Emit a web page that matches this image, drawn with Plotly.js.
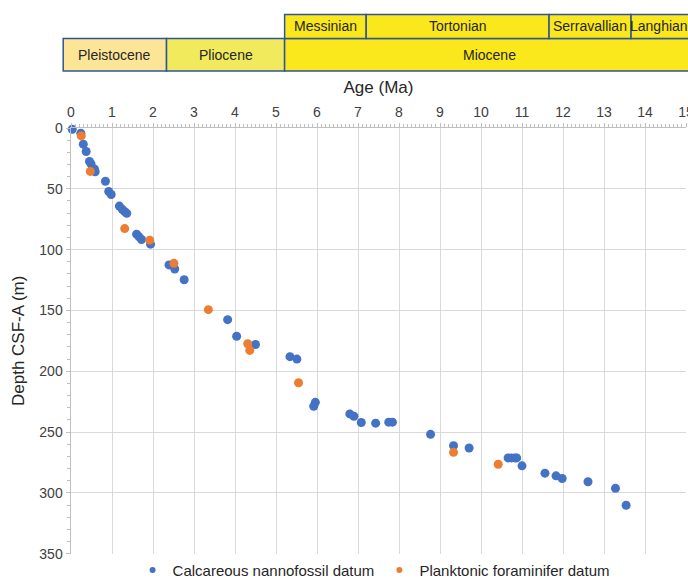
<!DOCTYPE html>
<html>
<head>
<meta charset="utf-8">
<script src="https://cdn.plot.ly/plotly-3.0.1.min.js"></script>
<style>html,body{margin:0;padding:0;background:#fff}#chart{width:688px;height:580px}</style>
</head>
<body>
<div id="chart"></div>
<script>
// Calcareous nannofossil datums: age (Ma), depth CSF-A (m)
var nannoAge = [0.03, 0.24, 0.30, 0.37, 0.45, 0.49, 0.57, 0.59, 0.84, 0.92, 0.98, 1.18, 1.25, 1.31, 1.36, 1.60, 1.66, 1.72, 1.94,
  2.39, 2.53, 2.76, 3.82, 4.04, 4.50, 5.34, 5.51, 5.96, 5.92, 6.80, 6.90, 7.08, 7.43, 7.75, 7.84, 8.77, 9.33, 9.71,
  10.66, 10.74, 10.83, 10.87, 11.00, 11.56, 11.83, 11.98, 12.61, 13.28, 13.54];
var nannoDepth = [1, 4.3, 13.3, 19.3, 27.5, 29.6, 33.7, 36.0, 43.8, 52.2, 54.7, 64.2, 66.9, 68.8, 70.2, 87.3, 89.5, 91.7, 95.5,
  112.6, 115.9, 124.8, 157.6, 171.2, 178.0, 188.0, 190.0, 225.6, 228.8, 235.1, 237.0, 242.2, 242.7, 241.9, 241.9, 251.9, 261.2, 263.1,
  271.3, 271.3, 271.3, 271.3, 277.8, 283.8, 286.0, 288.2, 290.9, 296.3, 310.2];
// Planktonic foraminifer datums
var foramAge = [0.25, 0.47, 1.31, 1.92, 2.51, 3.35, 4.31, 4.36, 5.55, 9.33, 10.42];
var foramDepth = [6.5, 35.7, 82.7, 92.2, 111.3, 149.4, 177.4, 182.9, 209.5, 266.7, 276.5];

var seriesNames = ['Calcareous nannofossil datum', 'Planktonic foraminifer datum'];
var seriesColors = ['#4472C4', '#ED7D31'];

// Geologic time scale header (ages in Ma, as drawn)
var epochNames = ['Pleistocene', 'Pliocene', 'Miocene'];
var epochStart = [-0.19, 2.33, 5.21];
var epochEnd = [2.33, 5.21, 15.3];
var epochColors = ['#FDE598', '#F0EA5C', '#FAE81C'];
var stageNames = ['Messinian', 'Tortonian', 'Serravallian', 'Langhian'];
var stageStart = [5.21, 7.2, 11.66, 13.66];
var stageEnd = [7.2, 11.66, 13.66, 15.3];
var stageColor = '#FAE81C';

var xMin = 0, xMax = 15;
function px(a) { return (a - xMin) / (xMax - xMin); }

var rowTop = 1.2669, rowMid = 1.2101, rowBot = 1.1342;
var shapes = [], annotations = [];
var border = {color: '#2F5597', width: 1.5};
var hdrFont = {family: 'Liberation Sans, Arial, sans-serif', size: 14, color: '#262626'};
for (var i = 0; i < epochNames.length; i++) {
  shapes.push({type: 'rect', xref: 'paper', yref: 'paper', x0: px(epochStart[i]), x1: px(epochEnd[i]),
    y0: rowBot, y1: rowMid, fillcolor: epochColors[i], line: border, layer: 'above'});
  var xc = (epochStart[i] + epochEnd[i]) / 2;
  if (i === 2) xc = 10.2;
  annotations.push({xref: 'paper', yref: 'paper', x: px(xc), y: (rowBot + rowMid) / 2, text: epochNames[i],
    showarrow: false, xanchor: 'center', yanchor: 'middle', font: hdrFont});
}
for (var j = 0; j < stageNames.length; j++) {
  shapes.push({type: 'rect', xref: 'paper', yref: 'paper', x0: px(stageStart[j]), x1: px(stageEnd[j]),
    y0: rowMid, y1: rowTop, fillcolor: stageColor, line: border, layer: 'above'});
  var sc = (stageStart[j] + stageEnd[j]) / 2;
  if (j === 3) sc = 14.35;
  annotations.push({xref: 'paper', yref: 'paper', x: px(sc), y: (rowMid + rowTop) / 2, text: stageNames[j],
    showarrow: false, xanchor: 'center', yanchor: 'middle', font: hdrFont});
}

var traces = [
  {x: nannoAge, y: nannoDepth, type: 'scatter', mode: 'markers', name: seriesNames[0], showlegend: false,
   marker: {color: seriesColors[0], size: 9}, cliponaxis: false},
  {x: foramAge, y: foramDepth, type: 'scatter', mode: 'markers', name: seriesNames[1], showlegend: false,
   marker: {color: seriesColors[1], size: 9}, cliponaxis: false},
  {x: [null], y: [null], type: 'scatter', mode: 'markers', name: seriesNames[0], marker: {color: seriesColors[0], size: 6}},
  {x: [null], y: [null], type: 'scatter', mode: 'markers', name: seriesNames[1], marker: {color: seriesColors[1], size: 6}}
];

var tickFont = {family: 'Liberation Sans, Arial, sans-serif', size: 14, color: '#404040'};
var layout = {
  width: 688, height: 580,
  margin: {l: 71, r: 2, t: 128, b: 25},
  paper_bgcolor: '#fff', plot_bgcolor: '#fff',
  showlegend: true,
  legend: {orientation: 'h', xref: 'container', yref: 'container', x: 0.543, xanchor: 'center', y: 0.017, yanchor: 'middle',
    font: {family: 'Liberation Sans, Arial, sans-serif', size: 15, color: '#262626'}, itemwidth: 30, tracegroupgap: 0},
  xaxis: {
    range: [xMin, xMax], side: 'top', dtick: 1, tick0: 0,
    showgrid: true, gridcolor: '#d9d9d9', gridwidth: 1,
    showline: true, linecolor: '#bfbfbf', linewidth: 1.5,
    ticks: 'outside', ticklen: 4, tickcolor: '#bfbfbf', ticklabeloverflow: 'allow',
    minor: {dtick: 0.1, ticks: 'outside', ticklen: 3, tickcolor: '#bfbfbf', showgrid: false},
    zeroline: false, tickfont: tickFont,
    title: {text: 'Age (Ma)', font: {family: 'Liberation Sans, Arial, sans-serif', size: 17, color: '#262626'}, standoff: 6}
  },
  yaxis: {
    range: [350, 0], dtick: 50, tick0: 0,
    showgrid: true, gridcolor: '#d9d9d9', gridwidth: 1,
    showline: true, linecolor: '#bfbfbf', linewidth: 1.5,
    ticks: 'outside', ticklen: 4, tickcolor: '#bfbfbf',
    minor: {dtick: 10, ticks: 'outside', ticklen: 3, tickcolor: '#bfbfbf', showgrid: false},
    zeroline: false, tickfont: tickFont,
    title: {text: 'Depth CSF-A (m)', font: {family: 'Liberation Sans, Arial, sans-serif', size: 17, color: '#262626'}, standoff: 10}
  },
  shapes: shapes,
  annotations: annotations
};

Plotly.newPlot('chart', traces, layout, {displayModeBar: false, staticPlot: true});
</script>
</body>
</html>
